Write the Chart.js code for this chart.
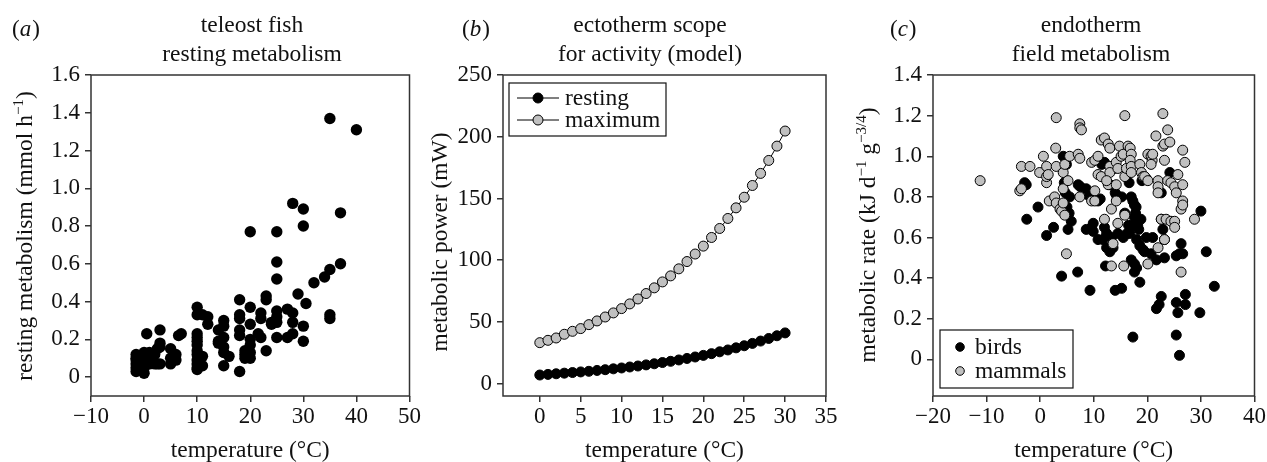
<!DOCTYPE html>
<html>
<head>
<meta charset="utf-8">
<script src="https://cdn.jsdelivr.net/npm/chart.js@4.4.1/dist/chart.umd.min.js"></script>
<style>
  html, body { margin: 0; padding: 0; background: #fff; }
  #wrap { position: relative; width: 1267px; height: 462px; }
  canvas { position: absolute; top: 0; }
</style>
</head>
<body>
<div id="wrap">
  <canvas id="panelA" width="422" height="462" style="left:0px"></canvas>
  <canvas id="panelB" width="423" height="462" style="left:422px"></canvas>
  <canvas id="panelC" width="422" height="462" style="left:845px"></canvas>
</div>
<script>
// (a) teleost fish resting metabolism: [temperature, mmol/h]
const fishPoints = [
  [-1.5,0.12],[-1.5,0.10],[-1.5,0.09],[-1.5,0.07],[-1.5,0.05],[-1.5,0.03],
  [-1,0.11],[-1,0.06],[-1,0.04],
  [0,0.13],[0,0.12],[0,0.10],[0,0.08],[0,0.06],[0,0.05],[0,0.02],
  [0.5,0.23],[0.5,0.11],[0.5,0.07],[1,0.13],[1,0.10],[1,0.07],
  [2,0.07],[2,0.12],[2.5,0.15],[2.5,0.07],
  [3,0.25],[3,0.18],[3,0.16],[3,0.07],
  [5,0.15],[5,0.10],[5,0.07],[6,0.12],[6,0.09],[6.5,0.22],[7,0.23],
  [10,0.37],[10,0.33],[10,0.23],[10,0.21],[10,0.19],[10,0.17],[10,0.14],
  [10,0.12],[10,0.09],[10,0.07],[10,0.05],[10,0.04],
  [11,0.33],[11,0.11],[11,0.06],[12,0.32],[12,0.28],
  [14,0.25],[14,0.19],[14,0.18],
  [15,0.30],[15,0.27],[15,0.21],[15,0.16],[15,0.13],[15,0.06],[16,0.11],
  [18,0.41],[18,0.33],[18,0.31],[18,0.25],[18,0.22],[18,0.03],
  [19,0.14],[19,0.12],[19,0.10],
  [20,0.77],[20,0.37],[20,0.28],[20,0.20],[20,0.17],[20,0.13],[20,0.10],
  [21.5,0.23],[22,0.34],[22,0.31],[22,0.21],
  [23,0.43],[23,0.41],[23,0.14],[24,0.29],[24,0.28],
  [25,0.77],[25,0.61],[25,0.52],[25,0.35],[25,0.32],[25,0.29],[25,0.21],
  [27,0.36],[27,0.21],[28,0.92],[28,0.34],[28,0.29],[28,0.23],[29,0.44],
  [30,0.89],[30,0.80],[30,0.27],[30,0.19],[30.5,0.39],[32,0.50],[34,0.53],
  [35,1.37],[35,0.57],[35,0.33],[35,0.31],[37,0.87],[37,0.60],[40,1.31]
];
const xTicksA = [-10, 0, 10, 20, 30, 40, 50];
const yTicksA = [0, 0.2, 0.4, 0.6, 0.8, 1.0, 1.2, 1.4, 1.6];

// (b) ectotherm scope for activity (model), mW
const tempB = [0,1,2,3,4,5,6,7,8,9,10,11,12,13,14,15,16,17,18,19,20,21,22,23,24,25,26,27,28,29,30];
const restingB = [7,7.5,8,8.5,9,9.5,10,10.7,11.3,12,12.7,13.5,14.3,15.2,16.1,17.1,
  18.1,19.2,20.4,21.6,22.9,24.3,25.8,27.3,29,30.7,32.6,34.5,36.6,38.8,41.1];
const maximumB = [33.2,35.1,37,40,42.4,44.6,47.8,50.8,54,57.3,60.8,64.6,68.6,73,77.6,82.4,
  87.3,93,98.9,105,111.4,118.4,125.7,133.8,142.4,151,160.5,170.3,180.8,192.4,204.6];
const xTicksB = [0, 5, 10, 15, 20, 25, 30, 35];
const yTicksB = [0, 50, 100, 150, 200, 250];

// (c) endotherm field metabolism, kJ d-1 g-3/4
const birdPoints = [
  [-2.9,0.87],[-2.6,0.86],[-2.5,0.69],[-0.4,0.75],[1.2,0.61],[2.5,0.65],[4.0,0.41],
  [4.3,1.00],[4.9,0.96],[4.5,0.87],[4.7,0.82],[5.5,0.80],[5.0,0.75],[5.4,0.72],
  [5.8,0.68],[5.2,0.64],[7.1,0.86],[7.5,0.85],[7.0,0.43],[8.6,0.84],[8.9,0.81],
  [8.6,0.64],[9.6,0.65],[9.3,0.34],[9.9,0.67],[9.9,0.63],[10.8,0.78],[11.2,0.79],
  [10.8,0.59],[11.7,0.59],[12.0,0.97],[12.0,0.65],[12.4,0.62],[12.4,0.55],[12.2,0.46],
  [13.0,0.86],[14.0,0.82],[13.3,0.60],[13.6,0.55],[13.0,0.53],[14.0,0.34],[15.2,0.35],
  [14.2,0.81],[15.2,0.80],[14.5,0.62],[15.5,0.60],[16.2,0.62],[16.6,0.87],[17.0,0.80],
  [17.3,0.78],[17.6,0.76],[17.9,0.75],[16.7,0.62],[17.2,0.66],[17.6,0.70],[18.0,0.68],
  [18.4,0.64],[18.8,0.69],[17.8,0.72],[18.2,0.66],[18.0,0.59],[18.6,0.56],[19.2,0.54],
  [19.5,0.53],[17.0,0.49],[17.6,0.47],[18.0,0.45],[17.6,0.43],[18.6,0.38],[17.3,0.11],
  [19.0,0.88],[19.8,0.89],[19.8,0.60],[20.7,0.52],[21.7,0.49],[21.7,0.25],[22.2,0.27],
  [22.6,0.31],[22.6,0.69],[22.9,0.64],[23.2,0.59],[23.2,0.50],[24.2,0.92],[22.6,0.82],
  [25.4,0.51],[26.0,0.52],[26.6,0.52],[26.3,0.57],[25.4,0.28],[25.7,0.23],[27.1,0.32],
  [27.1,0.27],[25.4,0.12],[26.0,0.02],[30.0,0.73],[29.8,0.23],[31.0,0.53],[32.5,0.36],
  [11.5,0.96],[13.8,0.94],[15.8,0.72],[16.5,0.66],[21.0,0.60]
];
const mammalPoints = [
  [-11.2,0.88],[-3.5,0.95],[-1.9,0.95],[-3.8,0.83],[-3.5,0.84],
  [0.6,1.00],[-0.1,0.92],[1.2,0.95],[1.2,0.87],[1.2,0.90],[1.5,0.91],[1.7,0.78],
  [3.0,1.19],[2.9,1.04],[3.0,0.95],[2.7,0.80],[3.0,0.77],
  [3.7,0.74],[4.0,0.73],[4.3,0.77],[4.6,0.71],[4.3,0.92],[4.6,0.96],[4.3,0.84],
  [4.9,0.52],[5.5,1.00],[5.2,0.88],
  [7.1,1.01],[7.4,0.99],[7.4,1.16],[7.4,1.14],[7.7,1.13],[7.4,0.80],
  [9.6,0.97],[10.2,0.98],[9.6,0.78],[10.2,0.83],[10.2,0.78],
  [10.8,1.00],[10.8,0.91],[11.4,0.90],[11.4,1.08],[12.0,1.09],[12.0,0.69],
  [12.7,1.06],[13.0,1.04],[13.0,0.95],[13.0,0.92],[12.7,0.86],[12.4,0.88],
  [13.3,0.74],[13.6,0.57],[13.3,0.46],[14.2,0.78],[14.2,0.86],
  [14.2,0.97],[14.5,0.94],[14.8,1.05],[15.1,1.00],[15.5,1.01],[14.5,0.67],
  [15.8,1.20],[15.8,0.90],[16.1,0.94],[15.6,0.46],[15.8,0.71],
  [16.4,1.05],[16.8,1.04],[17.0,1.01],[16.8,0.98],[17.0,0.95],[17.0,0.92],
  [18.6,0.96],[18.9,0.92],[19.2,0.90],[19.5,0.90],[20.1,0.88],
  [20.1,1.01],[20.7,1.00],[20.9,0.98],[20.7,0.96],[21.0,1.01],
  [21.6,1.10],[22.0,0.88],[22.0,0.85],[22.0,0.82],[22.0,0.55],[20.1,0.47],
  [22.9,1.21],[22.9,1.05],[23.2,1.06],[23.8,1.13],[24.2,1.07],[23.2,0.98],
  [22.6,0.69],[23.5,0.69],[24.4,0.68],[25.1,0.68],[25.1,0.65],[23.2,0.59],
  [23.8,0.88],[24.4,0.87],[25.1,0.85],[25.4,0.82],[25.7,0.91],
  [26.6,1.03],[27.0,0.97],[26.6,0.86],[26.3,0.74],[26.6,0.78],[26.6,0.76],[26.3,0.43],[28.8,0.69]
];
const xTicksC = [-20, -10, 0, 10, 20, 30, 40];
const yTicksC = [0, 0.2, 0.4, 0.6, 0.8, 1.0, 1.2, 1.4];

const FONT = "'Liberation Serif', 'Times New Roman', serif";
const INK = '#111';
const FRAME = '#333';
const GREY = '#c0c0c0';

Chart.defaults.font.family = FONT;
Chart.defaults.font.size = 23;
Chart.defaults.color = INK;

const toXY = pts => pts.map(([x, y]) => ({ x, y }));
const minus = v => String(v).replace('-', '\u2212');
const oneDec = v => (v === 0 ? '0' : v.toFixed(1));

// draws text made of [string, isSuperscript] runs, centred on the origin
function drawRuns(ctx, runs, size) {
  const sup = Math.round(size * 0.64);
  let total = 0;
  runs.forEach(([t, s]) => { ctx.font = (s ? sup : size) + 'px ' + FONT; total += ctx.measureText(t).width; });
  let x = -total / 2;
  runs.forEach(([t, s]) => {
    ctx.font = (s ? sup : size) + 'px ' + FONT;
    ctx.fillText(t, x, s ? -size * 0.4 : 0);
    x += ctx.measureText(t).width;
  });
}

const panelDecor = {
  id: 'panelDecor',
  beforeDatasetsDraw(chart) {
    const { ctx, chartArea: a } = chart;
    ctx.save();
    ctx.strokeStyle = FRAME;
    ctx.lineWidth = 1.5;
    ctx.strokeRect(a.left, a.top, a.right - a.left, a.bottom - a.top);
    ctx.restore();
  },
  afterDraw(chart, args, o) {
    const { ctx, chartArea: a } = chart;
    ctx.save();
    ctx.fillStyle = INK;
    ctx.textBaseline = 'alphabetic';

    // panel letter "(a)" with italic letter
    ctx.textAlign = 'left';
    let lx = o.labelX;
    ctx.font = '23px ' + FONT;
    ctx.fillText('(', lx, 36); lx += ctx.measureText('(').width;
    ctx.font = 'italic 23px ' + FONT;
    ctx.fillText(o.letter, lx, 36); lx += ctx.measureText(o.letter).width + 1;
    ctx.font = '23px ' + FONT;
    ctx.fillText(')', lx, 36);

    // two-line title
    ctx.textAlign = 'center';
    ctx.font = '23.5px ' + FONT;
    ctx.fillText(o.title[0], o.titleX, 32);
    ctx.fillText(o.title[1], o.titleX, 61);

    // x axis title
    ctx.fillText(o.xTitle, (a.left + a.right) / 2, 457);

    // rotated y axis title
    ctx.save();
    ctx.translate(o.yTitleX, o.yTitleY);
    ctx.rotate(-Math.PI / 2);
    ctx.textAlign = 'left';
    drawRuns(ctx, o.yTitle, 23.5);
    ctx.restore();

    // boxed legend
    const L = o.legend;
    if (L) {
      ctx.strokeStyle = INK;
      ctx.lineWidth = 1.2;
      ctx.strokeRect(L.box[0], L.box[1], L.box[2], L.box[3]);
      ctx.font = '23.5px ' + FONT;
      ctx.textAlign = 'left';
      ctx.textBaseline = 'middle';
      chart.data.datasets.forEach((ds, i) => {
        const y = L.rows[i];
        if (L.line) {
          ctx.beginPath();
          ctx.moveTo(L.line[0], y);
          ctx.lineTo(L.line[1], y);
          ctx.strokeStyle = '#000';
          ctx.lineWidth = 1;
          ctx.stroke();
        }
        ctx.beginPath();
        ctx.arc(L.markX, y, L.r, 0, Math.PI * 2);
        ctx.fillStyle = ds.backgroundColor;
        ctx.fill();
        ctx.strokeStyle = '#000';
        ctx.lineWidth = 1;
        ctx.stroke();
        ctx.fillStyle = INK;
        ctx.fillText(ds.label, L.textX, y + 1);
      });
    }
    ctx.restore();
  }
};

function axis(min, max, ticks, fmt, fixed, isY) {
  return {
    type: 'linear',
    min, max,
    afterBuildTicks: s => { s.ticks = ticks.map(v => ({ value: v })); },
    afterFit: s => { if (isY) s.width = fixed; else s.height = fixed; },
    border: { display: false },
    grid: { drawOnChartArea: false, drawTicks: true, tickLength: 6, color: FRAME, lineWidth: 1.5 },
    ticks: { callback: fmt, padding: isY ? 5 : 1, maxRotation: 0, autoSkip: false, font: { size: 23 }, color: INK }
  };
}

function baseOptions(padRight, xScale, yScale, decor) {
  return {
    responsive: false,
    animation: false,
    layout: { padding: { top: 75, right: padRight, left: 0, bottom: 0 } },
    scales: { x: xScale, y: yScale },
    plugins: { legend: { display: false }, tooltip: { enabled: false }, title: { display: false }, panelDecor: decor }
  };
}

new Chart(document.getElementById('panelA'), {
  type: 'scatter',
  data: {
    datasets: [{
      label: 'fish',
      data: toXY(fishPoints),
      backgroundColor: '#000', borderColor: '#000', borderWidth: 0,
      pointRadius: 5.7
    }]
  },
  options: baseOptions(10,
    axis(-10, 50, xTicksA, minus, 66, false),
    axis(-0.1, 1.6, yTicksA, oneDec, 91, true),
    {
      letter: 'a', labelX: 12, title: ['teleost fish', 'resting metabolism'], titleX: 252,
      xTitle: 'temperature (\u00b0C)',
      yTitle: [['resting metabolism (mmol h', 0], ['\u22121', 1], [')', 0]], yTitleX: 32, yTitleY: 236
    }),
  plugins: [panelDecor]
});

new Chart(document.getElementById('panelB'), {
  type: 'scatter',
  data: {
    datasets: [
      {
        label: 'resting',
        data: tempB.map((t, i) => ({ x: t, y: restingB[i] })),
        showLine: true, borderColor: '#000', borderWidth: 1,
        backgroundColor: '#000', pointBackgroundColor: '#000', pointBorderColor: '#000',
        pointBorderWidth: 1, pointRadius: 5
      },
      {
        label: 'maximum',
        data: tempB.map((t, i) => ({ x: t, y: maximumB[i] })),
        showLine: true, borderColor: '#000', borderWidth: 1,
        backgroundColor: GREY, pointBackgroundColor: GREY, pointBorderColor: '#000',
        pointBorderWidth: 1, pointRadius: 5
      }
    ]
  },
  options: baseOptions(19,
    axis(-4.5, 35, xTicksB, minus, 66, false),
    axis(-10, 250, yTicksB, v => String(v), 81, true),
    {
      letter: 'b', labelX: 40, title: ['ectotherm scope', 'for activity (model)'], titleX: 228,
      xTitle: 'temperature (\u00b0C)',
      yTitle: [['metabolic power (mW)', 0]], yTitleX: 25, yTitleY: 242,
      legend: { box: [87, 83, 157, 53], rows: [98, 120], line: [95, 137], markX: 116, r: 5, textX: 143 }
    }),
  plugins: [panelDecor]
});

new Chart(document.getElementById('panelC'), {
  type: 'scatter',
  data: {
    datasets: [
      {
        label: 'birds',
        data: toXY(birdPoints),
        order: 1,
        backgroundColor: '#000', borderColor: '#000', borderWidth: 1,
        pointRadius: 5
      },
      {
        label: 'mammals',
        data: toXY(mammalPoints),
        order: 0,
        backgroundColor: GREY, borderColor: '#000', borderWidth: 1,
        pointRadius: 5
      }
    ]
  },
  options: baseOptions(12,
    axis(-20, 40, xTicksC, minus, 66, false),
    axis(-0.18, 1.4, yTicksC, oneDec, 88, true),
    {
      letter: 'c', labelX: 45, title: ['endotherm', 'field metabolism'], titleX: 246,
      xTitle: 'temperature (\u00b0C)',
      yTitle: [['metabolic rate (kJ d', 0], ['\u22121', 1], [' g', 0], ['\u22123/4', 1], [')', 0]],
      yTitleX: 30, yTitleY: 235,
      legend: { box: [95, 330, 133, 58], rows: [347, 371], markX: 115, r: 4.3, textX: 130 }
    }),
  plugins: [panelDecor]
});
</script>
</body>
</html>
